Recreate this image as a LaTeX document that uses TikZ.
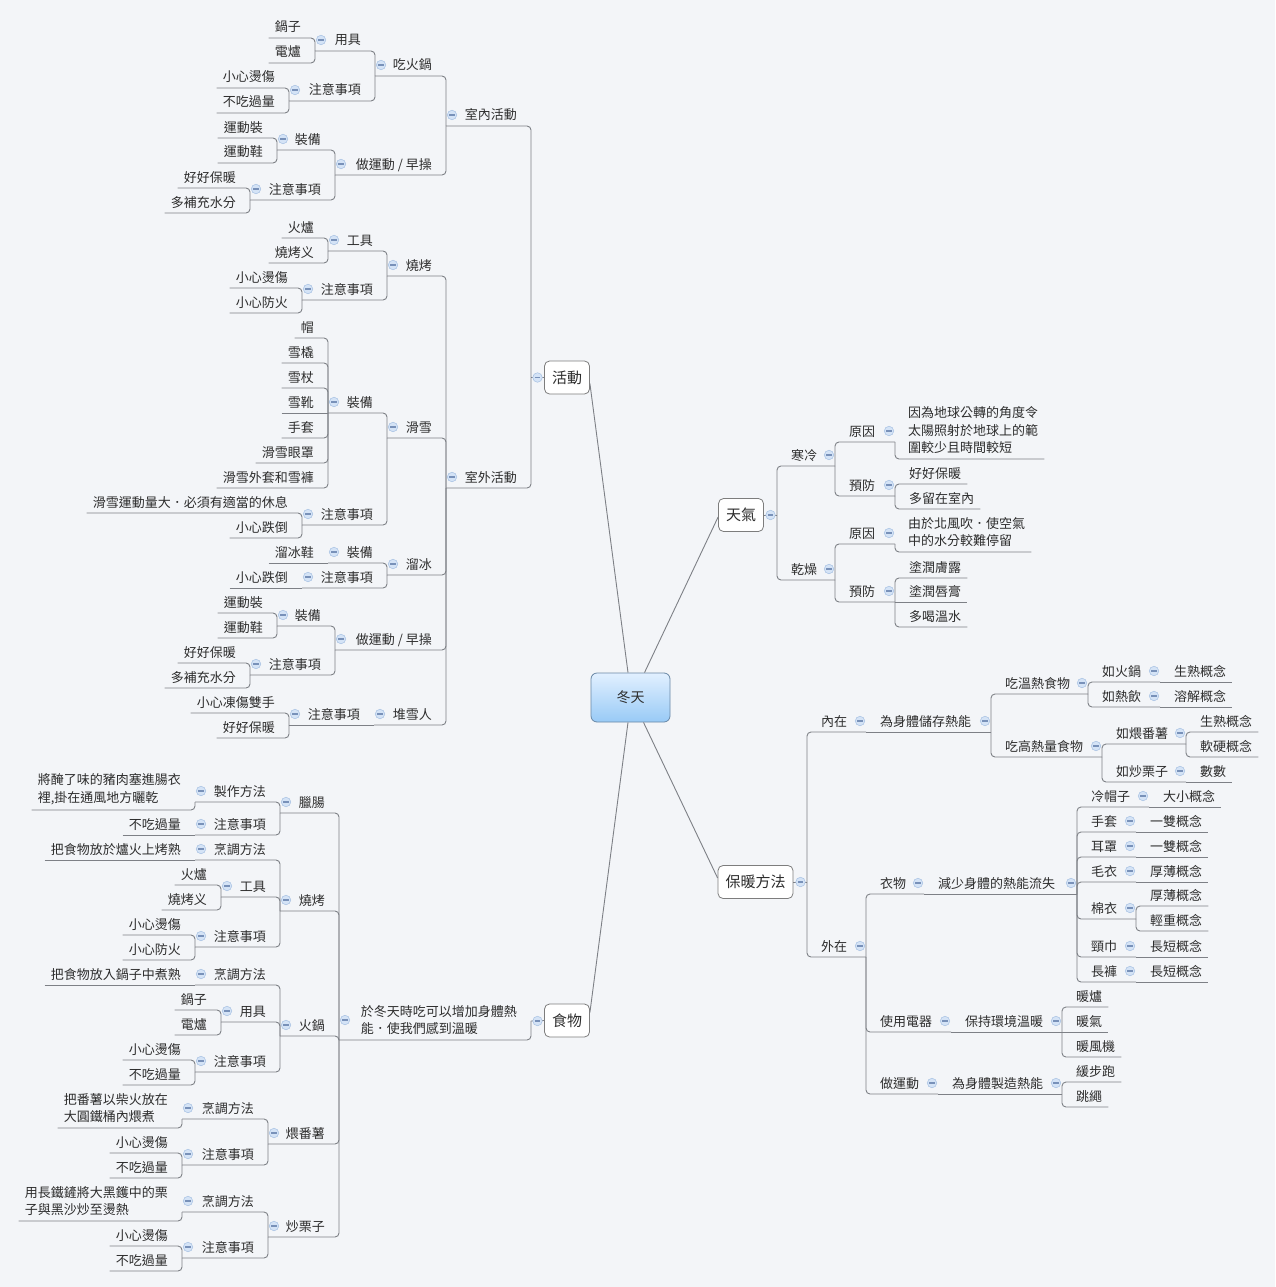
\documentclass[tikz,border=0pt]{standalone}
\usepackage{fontspec}
\newfontfamily\cjk{Noto Sans CJK TC}
\definecolor{bg}{RGB}{243,245,248}
\definecolor{linec}{RGB}{125,128,134}
\definecolor{txtc}{RGB}{45,45,45}
\definecolor{mfill}{RGB}{212,227,246}
\definecolor{mdraw}{RGB}{165,192,226}
\definecolor{mline}{RGB}{120,145,185}
\definecolor{boxc}{RGB}{125,125,125}
\definecolor{ctop}{RGB}{226,240,255}
\definecolor{cbot}{RGB}{152,202,246}
\definecolor{cdraw}{RGB}{105,135,165}
% left side internal node: name, xl, xr, yu, text
\newcommand\lnode[5]{%
  \node[txt,anchor=base east] (#1) at (#3-14,#4-6) {#5};
  \coordinate (#1-l) at (#2,#4);
  \coordinate (#1-r) at (#3,#4);
  \node[mns] (#1-m) at (#2+6,#4-11) {};}
% left internal multi-line
\newcommand\lnodem[5]{%
  \node[txt,align=left,anchor=south east] (#1) at (#3-14,#4-5) {#5};
  \coordinate (#1-l) at (#2,#4);
  \coordinate (#1-r) at (#3,#4);
  \path (#1-l |- #1.center) ++(6,0) node[mns] (#1-m) {};}
% left leaf: name, xr, yu, text
\newcommand\lleaf[4]{%
  \node[txt,anchor=base east] (#1) at (#2-14,#3-6) {#4};
  \coordinate (#1-r) at (#2,#3);
  \coordinate (#1-w) at ([xshift=-6pt]#1.west);
  \coordinate (#1-l) at (#1-w |- #1-r);}
\newcommand\lleafm[4]{%
  \node[txt,align=left,anchor=south east] (#1) at (#2-14,#3-5) {#4};
  \coordinate (#1-r) at (#2,#3);
  \coordinate (#1-w) at ([xshift=-6pt]#1.west);
  \coordinate (#1-l) at (#1-w |- #1-r);}
% right side internal node: name, xl, xr, yu, text
\newcommand\rnode[5]{%
  \node[txt,anchor=base west] (#1) at (#2+14,#4-6) {#5};
  \coordinate (#1-l) at (#2,#4);
  \coordinate (#1-r) at (#3,#4);
  \node[mns] (#1-m) at (#3-6,#4-11) {};}
% right leaf: name, xl, yu, text
\newcommand\rleaf[4]{%
  \node[txt,anchor=base west] (#1) at (#2+14,#3-6) {#4};
  \coordinate (#1-l) at (#2,#3);
  \coordinate (#1-e) at ([xshift=6pt]#1.east);
  \coordinate (#1-r) at (#1-e |- #1-l);}
\newcommand\rleafm[4]{%
  \node[txt,align=left,anchor=south west] (#1) at (#2+13,#3-5) {#4};
  \coordinate (#1-l) at (#2,#3);
  \coordinate (#1-e) at ([xshift=6pt]#1.east);
  \coordinate (#1-r) at (#1-e |- #1-l);}
\newcommand\conL[2]{\draw[conn] (#1-l) -- (#1-r) -- (#2-l);}
\newcommand\conR[2]{\draw[conn] (#2-r) -- (#1-l) -- (#1-r);}
\newcommand\conI[1]{\draw[conn] (#1-l) -- (#1-r);}
\begin{document}
\begin{tikzpicture}[x=1pt,y=-1pt,
  txt/.style={inner sep=0pt,font=\cjk\fontsize{13}{17.5}\selectfont,text=txtc},
  conn/.style={draw=linec,line width=0.9pt,rounded corners=4pt},
  mns/.style={circle,minimum size=9.5pt,inner sep=0pt,fill=mfill,draw=mdraw,line width=0.5pt,
    path picture={\draw[mline,line width=1.1pt] ([xshift=-2.6pt]path picture bounding box.center) -- ([xshift=2.6pt]path picture bounding box.center);}},
  mbox/.style={draw=boxc,fill=white,rounded corners=5pt,line width=0.8pt,font=\cjk\fontsize{15}{18}\selectfont,text=txtc,minimum height=33pt,inner xsep=7.5pt,inner ysep=0pt},
  cbox/.style={draw=cdraw,top color=ctop,bottom color=cbot,rounded corners=6pt,line width=0.8pt,font=\cjk\fontsize{14}{17}\selectfont,text=txtc,minimum width=79pt,minimum height=49pt,inner sep=0pt},
]
\useasboundingbox[fill=bg] (0,0) rectangle (1275,1287);

% ===== main topics =====
\node[cbox] (dt) at (630.5,697.5) {冬天};
\node[mbox] (hd) at (567,377.5) {活動};
\node[mbox] (tq) at (741,515) {天氣};
\node[mbox] (fd) at (567,1020.5) {食物};
\node[mbox] (bn) at (755.5,882) {保暖方法};
\coordinate (hd-l) at (531,377.5);
\coordinate (fd-l) at (531,1021);
\coordinate (tq-r) at (777,515);
\coordinate (bn-r) at (807,882);
\draw[linec,line width=0.9pt] ([xshift=-2.5pt]dt.north) -- ([yshift=-6pt]hd.east);
\draw[linec,line width=0.9pt] ([xshift=14pt]dt.north) -- ([yshift=-2pt]tq.west);
\draw[linec,line width=0.9pt] ([xshift=-2.5pt]dt.south) -- ([yshift=8pt]fd.east);
\draw[linec,line width=0.9pt] ([xshift=13pt]dt.south) -- ([yshift=4pt]bn.west);
\draw[conn] (hd-l) -- (hd.west);
\draw[conn] (fd-l) -- (fd.west);
\draw[conn] (tq.east) -- (tq-r);
\draw[conn] (bn.east) -- (bn-r);

% ===== 活動 / 室內活動 =====
\lnode{sn}{446}{531}{126}{室內活動} \conL{sn}{hd}
\lnode{hg}{375}{446}{76}{吃火鍋} \conL{hg}{sn}
\lnode{hgA}{315}{375}{51}{用具} \conL{hgA}{hg}
\lleaf{hgA1}{315}{38}{鍋子} \conL{hgA1}{hgA}
\lleaf{hgA2}{315}{63}{電爐} \conL{hgA2}{hgA}
\lnode{hgB}{289}{375}{101}{注意事項} \conL{hgB}{hg}
\lleaf{hgB1}{289}{88}{小心燙傷} \conL{hgB1}{hgB}
\lleaf{hgB2}{289}{113}{不吃過量} \conL{hgB2}{hgB}
\lnode{ex}{335}{446}{175}{做運動 / 早操} \conL{ex}{sn}
\lnode{exA}{277}{335}{150}{裝備} \conL{exA}{ex}
\lleaf{exA1}{277}{138}{運動裝} \conL{exA1}{exA}
\lleaf{exA2}{277}{163}{運動鞋} \conL{exA2}{exA}
\lnode{exB}{250}{335}{200}{注意事項} \conL{exB}{ex}
\lleaf{exB1}{250}{188}{好好保暖} \conL{exB1}{exB}
\lleaf{exB2}{250}{213}{多補充水分} \conL{exB2}{exB}

% ===== 室外活動 =====
\lnode{sw}{446}{531}{488}{室外活動} \conL{sw}{hd}
\lnode{bb}{387}{446}{276}{燒烤} \conL{bb}{sw}
\lnode{bbA}{328}{387}{251}{工具} \conL{bbA}{bb}
\lleaf{bbA1}{328}{238}{火爐} \conL{bbA1}{bbA}
\lleaf{bbA2}{328}{263}{燒烤义} \conL{bbA2}{bbA}
\lnode{bbB}{302}{387}{300}{注意事項} \conL{bbB}{bb}
\lleaf{bbB1}{302}{288}{小心燙傷} \conL{bbB1}{bbB}
\lleaf{bbB2}{302}{313}{小心防火} \conL{bbB2}{bbB}
\lnode{sk}{387}{446}{438}{滑雪} \conL{sk}{sw}
\lnode{skA}{328}{387}{413}{裝備} \conL{skA}{sk}
\lleaf{skA1}{328}{338}{帽} \conL{skA1}{skA}
\lleaf{skA2}{328}{363}{雪橇} \conL{skA2}{skA}
\lleaf{skA3}{328}{388}{雪杖} \conL{skA3}{skA}
\lleaf{skA4}{328}{413}{雪靴} \conI{skA4}
\lleaf{skA5}{328}{438}{手套} \conL{skA5}{skA}
\lleaf{skA6}{328}{463}{滑雪眼罩} \conL{skA6}{skA}
\lleaf{skA7}{328}{488}{滑雪外套和雪褲} \conL{skA7}{skA}
\lnode{skB}{302}{387}{525}{注意事項} \conL{skB}{sk}
\lleaf{skB1}{302}{513}{滑雪運動量大．必須有適當的休息} \conL{skB1}{skB}
\lleaf{skB2}{302}{538}{小心跌倒} \conL{skB2}{skB}
\lnode{ic}{387}{446}{575}{溜冰} \conL{ic}{sw}
\lnode{icA}{328}{387}{563}{裝備} \conL{icA}{ic}
\lleaf{icA1}{328}{563}{溜冰鞋} \conI{icA1}
\lnode{icB}{302}{387}{588}{注意事項} \conL{icB}{ic}
\lleaf{icB1}{302}{588}{小心跌倒} \conI{icB1}
\lnode{ey}{335}{446}{650}{做運動 / 早操} \conL{ey}{sw}
\lnode{eyA}{277}{335}{626}{裝備} \conL{eyA}{ey}
\lleaf{eyA1}{277}{613}{運動裝} \conL{eyA1}{eyA}
\lleaf{eyA2}{277}{638}{運動鞋} \conL{eyA2}{eyA}
\lnode{eyB}{250}{335}{675}{注意事項} \conL{eyB}{ey}
\lleaf{eyB1}{250}{663}{好好保暖} \conL{eyB1}{eyB}
\lleaf{eyB2}{250}{688}{多補充水分} \conL{eyB2}{eyB}
\lnode{sm}{374}{446}{725}{堆雪人} \conL{sm}{sw}
\lnode{smA}{289}{374}{725}{注意事項} \conI{smA}
\lleaf{smA1}{289}{713}{小心凍傷雙手} \conL{smA1}{smA}
\lleaf{smA2}{289}{738}{好好保暖} \conL{smA2}{smA}

% ===== 食物 =====
\lnodem{fx}{339}{531}{1040}{於冬天時吃可以增加身體熱\\能．使我們感到溫暖} \conL{fx}{fd}
\lnode{ls}{280}{339}{813}{臘腸} \conL{ls}{fx}
\lnode{lsA}{195}{280}{802}{製作方法} \conL{lsA}{ls}
\lleafm{lsA1}{195}{810}{將醃了味的豬肉塞進腸衣\\裡,掛在通風地方曬乾} \conL{lsA1}{lsA}
\lnode{lsB}{195}{280}{835}{注意事項} \conL{lsB}{ls}
\lleaf{lsB1}{195}{835}{不吃過量} \conI{lsB1}
\lnode{bq}{280}{339}{911}{燒烤} \conL{bq}{fx}
\lnode{bqA}{195}{280}{860}{烹調方法} \conL{bqA}{bq}
\lleaf{bqA1}{195}{860}{把食物放於爐火上烤熟} \conI{bqA1}
\lnode{bqB}{221}{280}{897}{工具} \conL{bqB}{bq}
\lleaf{bqB1}{221}{885}{火爐} \conL{bqB1}{bqB}
\lleaf{bqB2}{221}{910}{燒烤义} \conL{bqB2}{bqB}
\lnode{bqC}{195}{280}{947}{注意事項} \conL{bqC}{bq}
\lleaf{bqC1}{195}{935}{小心燙傷} \conL{bqC1}{bqC}
\lleaf{bqC2}{195}{960}{小心防火} \conL{bqC2}{bqC}
\lnode{hp}{280}{339}{1036}{火鍋} \conL{hp}{fx}
\lnode{hpA}{195}{280}{985}{烹調方法} \conL{hpA}{hp}
\lleaf{hpA1}{195}{985}{把食物放入鍋子中煮熟} \conI{hpA1}
\lnode{hpB}{221}{280}{1022}{用具} \conL{hpB}{hp}
\lleaf{hpB1}{221}{1010}{鍋子} \conL{hpB1}{hpB}
\lleaf{hpB2}{221}{1035}{電爐} \conL{hpB2}{hpB}
\lnode{hpC}{195}{280}{1072}{注意事項} \conL{hpC}{hp}
\lleaf{hpC1}{195}{1060}{小心燙傷} \conL{hpC1}{hpC}
\lleaf{hpC2}{195}{1085}{不吃過量} \conL{hpC2}{hpC}
\lnode{wf}{268}{339}{1144}{煨番薯} \conL{wf}{fx}
\lnode{wfA}{182}{268}{1119}{烹調方法} \conL{wfA}{wf}
\lleafm{wfA1}{182}{1128}{把番薯以柴火放在\\大圓鐵桶內煨煮} \conL{wfA1}{wfA}
\lnode{wfB}{182}{268}{1165}{注意事項} \conL{wfB}{wf}
\lleaf{wfB1}{182}{1153}{小心燙傷} \conL{wfB1}{wfB}
\lleaf{wfB2}{182}{1178}{不吃過量} \conL{wfB2}{wfB}
\lnode{cl}{268}{339}{1237}{炒栗子} \conL{cl}{fx}
\lnode{clA}{182}{268}{1212}{烹調方法} \conL{clA}{cl}
\lleafm{clA1}{182}{1221}{用長鐵鏟將大黑鑊中的栗\\子與黑沙炒至燙熱} \conL{clA1}{clA}
\lnode{clB}{182}{268}{1258}{注意事項} \conL{clB}{cl}
\lleaf{clB1}{182}{1246}{小心燙傷} \conL{clB1}{clB}
\lleaf{clB2}{182}{1271}{不吃過量} \conL{clB2}{clB}

% ===== 天氣 =====
\rnode{hl}{777}{835}{466}{寒冷} \conR{hl}{tq}
\rnode{hlA}{835}{895}{442}{原因} \conR{hlA}{hl}
\rleafm{hlA1}{895}{459}{因為地球公轉的角度令\\太陽照射於地球上的範\\圍較少且時間較短} \conR{hlA1}{hlA}
\rnode{hlB}{835}{895}{496}{預防} \conR{hlB}{hl}
\rleaf{hlB1}{895}{484}{好好保暖} \conR{hlB1}{hlB}
\rleaf{hlB2}{895}{509}{多留在室內} \conR{hlB2}{hlB}
\rnode{gz}{777}{835}{580}{乾燥} \conR{gz}{tq}
\rnode{gzA}{835}{895}{544}{原因} \conR{gzA}{gz}
\rleafm{gzA1}{895}{552}{由於北風吹．使空氣\\中的水分較難停留} \conR{gzA1}{gzA}
\rnode{gzB}{835}{895}{602}{預防} \conR{gzB}{gz}
\rleaf{gzB1}{895}{578}{塗潤膚露} \conR{gzB1}{gzB}
\rleaf{gzB2}{895}{602}{塗潤唇膏} \conI{gzB2}
\rleaf{gzB3}{895}{627}{多喝溫水} \conR{gzB3}{gzB}

% ===== 保暖方法 =====
\rnode{nz}{807}{866}{732}{內在} \conR{nz}{bn}
\rnode{nzA}{866}{991}{732}{為身體儲存熱能} \conI{nzA}
\rnode{nzA1}{991}{1088}{694}{吃溫熱食物} \conR{nzA1}{nzA}
\rnode{nzA1a}{1088}{1160}{682}{如火鍋} \conR{nzA1a}{nzA1}
\rleaf{nzA1a1}{1160}{682}{生熟概念} \conI{nzA1a1}
\rnode{nzA1b}{1088}{1160}{707}{如熱飲} \conR{nzA1b}{nzA1}
\rleaf{nzA1b1}{1160}{707}{溶解概念} \conI{nzA1b1}
\rnode{nzA2}{991}{1102}{757}{吃高熱量食物} \conR{nzA2}{nzA}
\rnode{nzA2a}{1102}{1186}{744}{如煨番薯} \conR{nzA2a}{nzA2}
\rleaf{nzA2a1}{1186}{732}{生熟概念} \conR{nzA2a1}{nzA2a}
\rleaf{nzA2a2}{1186}{757}{軟硬概念} \conR{nzA2a2}{nzA2a}
\rnode{nzA2b}{1102}{1186}{782}{如炒栗子} \conR{nzA2b}{nzA2}
\rleaf{nzA2b1}{1186}{782}{數數} \conI{nzA2b1}
\rnode{wz}{807}{866}{957}{外在} \conR{wz}{bn}
\rnode{yw}{866}{924}{894}{衣物} \conR{yw}{wz}
\rnode{ywA}{924}{1077}{894}{減少身體的熱能流失} \conI{ywA}
\rnode{c1}{1077}{1149}{807}{冷帽子} \conR{c1}{ywA}
\rleaf{c1a}{1149}{807}{大小概念} \conI{c1a}
\rnode{c2}{1077}{1136}{832}{手套} \conR{c2}{ywA}
\rleaf{c2a}{1136}{832}{一雙概念} \conI{c2a}
\rnode{c3}{1077}{1136}{857}{耳罩} \conR{c3}{ywA}
\rleaf{c3a}{1136}{857}{一雙概念} \conI{c3a}
\rnode{c4}{1077}{1136}{882}{毛衣} \conR{c4}{ywA}
\rleaf{c4a}{1136}{882}{厚薄概念} \conI{c4a}
\rnode{c5}{1077}{1136}{919}{棉衣} \conR{c5}{ywA}
\rleaf{c5a}{1136}{906}{厚薄概念} \conR{c5a}{c5}
\rleaf{c5b}{1136}{931}{輕重概念} \conR{c5b}{c5}
\rnode{c6}{1077}{1136}{957}{頸巾} \conR{c6}{ywA}
\rleaf{c6a}{1136}{957}{長短概念} \conI{c6a}
\rnode{c7}{1077}{1136}{982}{長褲} \conR{c7}{ywA}
\rleaf{c7a}{1136}{982}{長短概念} \conI{c7a}
\rnode{dq}{866}{951}{1032}{使用電器} \conR{dq}{wz}
\rnode{dqA}{951}{1062}{1032}{保持環境溫暖} \conI{dqA}
\rleaf{dqA1}{1062}{1007}{暖爐} \conR{dqA1}{dqA}
\rleaf{dqA2}{1062}{1032}{暖氣} \conI{dqA2}
\rleaf{dqA3}{1062}{1057}{暖風機} \conR{dqA3}{dqA}
\rnode{yd}{866}{938}{1094}{做運動} \conR{yd}{wz}
\rnode{ydA}{938}{1062}{1094}{為身體製造熱能} \conI{ydA}
\rleaf{ydA1}{1062}{1082}{緩步跑} \conR{ydA1}{ydA}
\rleaf{ydA2}{1062}{1107}{跳繩} \conR{ydA2}{ydA}

% ===== collapse markers of main topics =====
\node[mns] (hd-m) at (537.5,377.5) {};
\node[mns] (fd-m) at (537.5,1021) {};
\node[mns] (tq-m) at (770.5,515) {};
\node[mns] (bn-m) at (800.5,882) {};
\end{tikzpicture}
\end{document}
